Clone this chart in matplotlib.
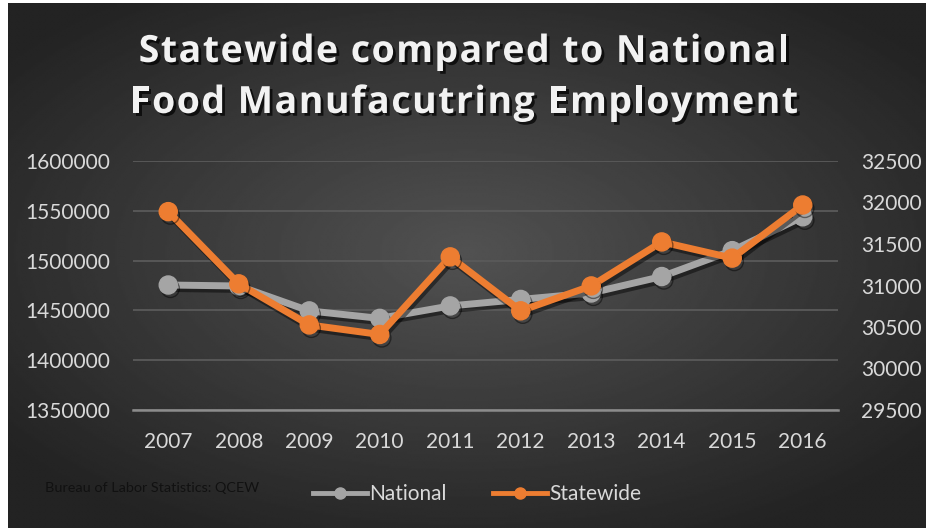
import numpy as np
import matplotlib.pyplot as plt
import matplotlib.patheffects as pe
from matplotlib.lines import Line2D
from matplotlib.ticker import StrMethodFormatter

years = ["2007", "2008", "2009", "2010", "2011", "2012", "2013", "2014", "2015", "2016"]
national = [1475500, 1474500, 1449500, 1442000, 1454500, 1461000, 1467500, 1484000, 1510000, 1544000]
statewide = [31890, 31020, 30525, 30410, 31345, 30695, 30995, 31525, 31330, 31970]
title_lines = ["Statewide compared to National", "Food Manufacutring Employment"]

plt.rcParams['font.family'] = ['Lato', 'DejaVu Sans']

W, H = 928, 531
fig = plt.figure(figsize=(W / 100, H / 100), dpi=100, facecolor="white")

# dark radial background
bg = fig.add_axes([8 / W, 3 / H, 918 / W, 525 / H])
bg.set_axis_off()
yy, xx = np.mgrid[-1:1:300j, -1:1:500j]
r = np.sqrt((xx * 0.95) ** 2 + ((yy + 0.05) * 1.0) ** 2)
bg.imshow(0.32 - 0.18 * np.clip(r, 0, 1.2) / 1.2, cmap="gray", vmin=0, vmax=1,
          aspect="auto", extent=[0, 1, 0, 1], interpolation="bilinear")
bg.set_xlim(0, 1)
bg.set_ylim(0, 1)

ax = fig.add_axes([133 / W, 1 - 410 / H, 705 / W, 249 / H])
ax.patch.set_alpha(0)
ax2 = ax.twinx()
ax2.patch.set_alpha(0)

x = np.arange(len(years))
shadow = [pe.SimpleLineShadow(offset=(1.5, -2.5), shadow_color="black", alpha=0.45), pe.Normal()]

ax.plot(x, national, color="#a5a5a5", lw=5, marker="o", ms=13,
        markerfacecolor="#a5a5a5", markeredgecolor="#a5a5a5", zorder=3,
        path_effects=shadow, solid_capstyle="round")
ax2.plot(x, statewide, color="#ed7d31", lw=5, marker="o", ms=13,
         markerfacecolor="#ed7d31", markeredgecolor="#ed7d31", zorder=3,
         path_effects=shadow, solid_capstyle="round")

ax.set_xlim(-0.5, len(years) - 0.5)
ax.set_ylim(1350000, 1600000)
ax.set_yticks(np.arange(1350000, 1600001, 50000))
ax.yaxis.set_major_formatter(StrMethodFormatter("{x:.0f}"))
ax2.set_ylim(29500, 32500)
ax2.set_yticks(np.arange(29500, 32501, 500))
ax.set_xticks(x)
ax.set_xticklabels(years)

ax.grid(axis="y", color="#5a5a5a", lw=1.3)
ax.set_axisbelow(True)
for a in (ax, ax2):
    for s in a.spines.values():
        s.set_visible(False)
ax.spines["bottom"].set_visible(True)
ax.spines["bottom"].set_color("#8c8c8c")
ax.spines["bottom"].set_linewidth(1.8)

ax.tick_params(axis="y", length=0, pad=16.5, labelsize=15, labelcolor="#d9d9d9")
ax2.tick_params(axis="y", length=0, pad=16.5, labelsize=15, labelcolor="#d9d9d9")
ax.tick_params(axis="x", length=0, pad=16, labelsize=15, labelcolor="#d9d9d9")

# title with letter spacing, drawn char by char
title_fx = [pe.withSimplePatchShadow(offset=(2, -2), shadow_rgbFace="black", alpha=0.7)]
renderer = fig.canvas.get_renderer()
track = 1.5
for line, yc in zip(title_lines, [52, 103]):
    kw = dict(fontsize=27, fontweight="bold", color="#f2f2f2", va="center", ha="left",
              family=["Open Sans", "DejaVu Sans"], path_effects=title_fx)
    widths = []
    for ch in line:
        t = fig.text(0, 0, ch if ch != " " else "a a", **kw)
        wdt = t.get_window_extent(renderer).width
        if ch == " ":
            t2 = fig.text(0, 0, "aa", **kw)
            wdt = wdt - t2.get_window_extent(renderer).width
            t2.remove()
        t.remove()
        widths.append(wdt)
    total = sum(widths) + track * (len(line) - 1)
    xpos = (W - total) / 2
    for ch, wdt in zip(line, widths):
        if ch != " ":
            fig.text(xpos / W, 1 - yc / H, ch, **kw)
        xpos += wdt + track

fig.text(45 / W, 1 - 488 / H, "Bureau of Labor Statistics: QCEW", ha="left", va="center",
         fontsize=10.4, color="#111111")

handles = [
    Line2D([], [], color="#a5a5a5", lw=3.5, marker="o", ms=8, label="National"),
    Line2D([], [], color="#ed7d31", lw=3.5, marker="o", ms=8, label="Statewide"),
]
fig.legend(handles=handles, loc="center", bbox_to_anchor=(477 / W, 1 - 494 / H),
           ncol=2, frameon=False, fontsize=15, labelcolor="#d9d9d9",
           handlelength=2.6, handletextpad=0.1, columnspacing=2.2)

fig.savefig("out.png", dpi=100, facecolor="white")
